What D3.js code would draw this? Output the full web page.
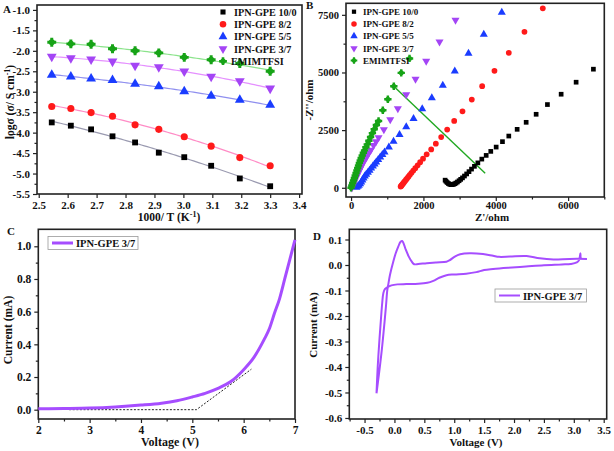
<!DOCTYPE html>
<html><head><meta charset="utf-8">
<script src="https://cdn.jsdelivr.net/npm/d3@7"></script>
<style>
html,body{margin:0;padding:0;background:#fff;}
svg text{font-family:"Liberation Serif","Times New Roman",serif;font-weight:bold;fill:#111;}
</style></head>
<body>
<svg id="fig" width="614" height="451"></svg>
<script>
// ---------- Panel A data: log conductivity vs 1000/T ----------
const aX   = [2.545, 2.611, 2.681, 2.755, 2.833, 2.915, 3.003, 3.096, 3.195, 3.300];
const a100 = [-3.75,-3.83,-3.92,-4.09,-4.24,-4.49,-4.60,-4.81,-5.12,-5.31];
const a82  = [-3.36,-3.41,-3.51,-3.60,-3.81,-3.92,-4.10,-4.33,-4.61,-4.81];
const a55  = [-2.59,-2.63,-2.68,-2.72,-2.81,-2.87,-2.99,-3.10,-3.20,-3.32];
const a37  = [-2.14,-2.18,-2.21,-2.26,-2.36,-2.40,-2.50,-2.63,-2.74,-2.92];
const aEM  = [-1.79,-1.83,-1.84,-1.95,-2.00,-2.05,-2.16,-2.22,-2.31,-2.50];
const seriesNames = ["IPN-GPE 10/0","IPN-GPE 8/2","IPN-GPE 5/5","IPN-GPE 3/7","EMIMTFSI"];
const aXTicks = [2.5,2.6,2.7,2.8,2.9,3.0,3.1,3.2,3.3,3.4];
const aYTicks = [-1.0,-1.5,-2.0,-2.5,-3.0,-3.5,-4.0,-4.5,-5.0,-5.5];

// ---------- Panel B data: Nyquist plots [Z', -Z''] ----------
const b100 = [[2600,330],[2625,280],[2655,230],[2690,185],[2725,155],[2760,135],[2795,135],[2830,150],[2865,175],[2900,205],[2940,250],[2985,305],[3030,365],[3080,430],[3135,510],[3195,600],[3260,700],[3330,810],[3410,930],[3505,1080],[3614,1243],[3735,1404],[3862,1578],[4011,1765],[4185,2000],[4360,2243],[4591,2535],[4840,2839],[5116,3187],[5428,3609],[5807,4057],[6221,4578],[6699,5143]];
const b82  = [[1370,50],[1385,80],[1400,110],[1420,150],[1440,190],[1465,240],[1490,290],[1520,350],[1550,410],[1585,480],[1625,560],[1670,650],[1720,745],[1775,850],[1840,975],[1910,1110],[1990,1260],[2090,1450],[2215,1665],[2343,1913],[2491,2200],[2657,2522],[2851,2896],[3080,3317],[3337,3826],[3624,4404],[3964,5070],[4360,5852],[4793,6765],[5300,7783]];
const b55  = [[150,10],[185,55],[216,100],[250,170],[281,243],[313,330],[345,417],[380,500],[419,578],[465,665],[511,752],[555,845],[603,939],[650,1025],[695,1113],[750,1220],[806,1330],[865,1440],[925,1548],[1045,1765],[1174,2013],[1340,2304],[1525,2635],[1727,3000],[1967,3417],[2232,3896],[2536,4435],[2867,5057],[3246,5826],[3669,6652],[4166,7609]];
const b37  = [[22,0],[45,85],[69,174],[95,280],[124,391],[155,500],[188,609],[220,715],[254,826],[282,920],[309,1013],[340,1100],[373,1187],[405,1280],[437,1374],[492,1500],[545,1630],[622,1839],[690,2000],[760,2174],[906,2522],[1083,2957],[1293,3435],[1525,4043],[1782,4709],[2077,5491],[2445,6330],[2887,7274]];
const bEM  = [[0,0],[22,100],[45,210],[69,317],[92,425],[115,535],[138,645],[161,752],[184,860],[207,970],[230,1080],[254,1187],[280,1295],[309,1404],[340,1515],[373,1622],[410,1760],[448,1883],[492,2040],[539,2200],[590,2370],[640,2535],[700,2720],[760,2896],[878,3361],[1017,3839],[1182,4404],[1387,4983],[1616,5609]];
const bEMLine = [[1230,4330],[3707,635]];
const bXTicks = [0,2000,4000,6000];
const bYTicks = [0,2500,5000,7500];

// ---------- Panel C data: LSV ----------
const cV = [2.0,2.5,3.0,3.5,4.0,4.4,4.7,5.0,5.25,5.5,5.75,6.0,6.2,6.4,6.5,6.6,6.7,6.8,6.9,7.0];
const cI = [0.005,0.007,0.010,0.017,0.028,0.040,0.055,0.078,0.100,0.130,0.172,0.245,0.320,0.430,0.495,0.590,0.680,0.800,0.920,1.040];
const cTangent = [[2.6,0.0],[5.08,0.0],[6.15,0.248]];
const cXTicks = [2,3,4,5,6,7];
const cYTicks = [0.0,0.2,0.4,0.6,0.8,1.0];

// ---------- Panel D data: CV loop ----------
const dV = [-0.30,-0.28,-0.25,-0.225,-0.205,-0.185,-0.16,-0.12,-0.05,0.05,0.20,0.40,0.55,0.65,0.75,0.87,1.00,1.20,1.37,1.50,1.65,1.90,2.20,2.50,2.80,2.95,3.05,3.09,3.11,3.12,3.16,3.22,
            2.93,2.66,2.43,2.21,1.93,1.75,1.65,1.48,1.26,1.10,1.01,0.92,0.87,0.70,0.54,0.40,0.33,0.29,0.24,0.19,0.16,0.13,0.10,0.064,0.02,-0.02,-0.075,-0.10,-0.12,-0.14,-0.165,-0.21,-0.26,-0.30];
const dI = [-0.503,-0.40,-0.29,-0.21,-0.15,-0.11,-0.095,-0.088,-0.080,-0.076,-0.075,-0.074,-0.070,-0.062,-0.050,-0.040,-0.037,-0.034,-0.028,-0.020,-0.016,-0.011,-0.006,-0.001,0.002,0.004,0.010,0.020,0.046,0.024,0.024,0.024,
            0.024,0.022,0.026,0.035,0.033,0.032,0.036,0.043,0.046,0.042,0.033,0.018,0.013,0.010,0.007,0.004,0.003,0.013,0.033,0.060,0.080,0.094,0.090,0.072,0.045,0.013,-0.039,-0.072,-0.10,-0.157,-0.222,-0.33,-0.43,-0.503];
const dXTicks = [-0.5,0.0,0.5,1.0,1.5,2.0,2.5,3.0,3.5];
const dYTicks = [0.1,0.0,-0.1,-0.2,-0.3,-0.4,-0.5,-0.6];

// ================= drawing =================
const svg = d3.select("#fig");
const colors = ["#000000","#ff1a1a","#1a3cff","#a445f5","#17a317"];
const fitColors = ["#9a9ab0","#ff8cc6","#8f8fef","#e590ff","#8be38b"];

function frame(g, x, y, o) {
  const [x0,x1] = x.range(), [y0,y1] = y.range();
  const fs = o.fs || 11;
  const pad = o.pad == null ? 3 : o.pad;
  g.append("g").attr("transform",`translate(0,${y0})`)
    .call(d3.axisBottom(x).tickValues(o.xt).tickSize(4).tickPadding(pad).tickFormat(o.xf));
  if (o.xm) g.append("g").attr("transform",`translate(0,${y0})`)
    .call(d3.axisBottom(x).tickValues(o.xm).tickSize(2.5).tickFormat(""));
  g.append("g").attr("transform",`translate(${x0},0)`)
    .call(d3.axisLeft(y).tickValues(o.yt).tickSize(4).tickPadding(3).tickFormat(o.yf));
  if (o.ym) g.append("g").attr("transform",`translate(${x0},0)`)
    .call(d3.axisLeft(y).tickValues(o.ym).tickSize(2.5).tickFormat(""));
  g.selectAll(".domain").remove();
  g.selectAll(".tick line").attr("stroke","#222").attr("stroke-width",1.2);
  g.selectAll(".tick text").attr("font-size",fs).attr("fill","#111")
    .style("font-family",'"Liberation Serif",serif').style("font-weight","bold");
  g.append("rect").attr("x",x0).attr("y",y1).attr("width",x1-x0).attr("height",y0-y1)
    .attr("fill","none").attr("stroke","#222").attr("stroke-width",1.6);
}

function polyfit2(xs, ys) {
  let S = [0,0,0,0,0], T=[0,0,0];
  xs.forEach((xv,i)=>{ const p=[1,xv,xv*xv,xv*xv*xv,xv*xv*xv*xv];
    for(let k=0;k<5;k++) S[k]+=p[k];
    T[0]+=ys[i]; T[1]+=ys[i]*xv; T[2]+=ys[i]*xv*xv; });
  const M = [[S[0],S[1],S[2],T[0]],[S[1],S[2],S[3],T[1]],[S[2],S[3],S[4],T[2]]];
  for (let i=0;i<3;i++){ for(let j=i+1;j<3;j++){ const f=M[j][i]/M[i][i]; for(let k=i;k<4;k++) M[j][k]-=f*M[i][k]; } }
  const c=[0,0,0];
  for (let i=2;i>=0;i--){ let s=M[i][3]; for(let k=i+1;k<3;k++) s-=M[i][k]*c[k]; c[i]=s/M[i][i]; }
  return xv => c[0]+c[1]*xv+c[2]*xv*xv;
}

const sym = [d3.symbolSquare, d3.symbolCircle, d3.symbolTriangle, d3.symbolTriangle, d3.symbolCross];
const rot = [0,0,0,180,0];

function marker(sel, i, size) {
  sel.append("path").attr("d", d3.symbol().type(sym[i]).size(size)).attr("transform", `rotate(${rot[i]})`).attr("fill",colors[i]);
  if (i === 4) sel.append("circle").attr("r", Math.sqrt(size)*0.46).attr("fill",colors[i]);
}

// ---------- Panel A ----------
{
  const g = svg.append("g");
  const x = d3.scaleLinear().domain([2.494,3.41]).range([37,302]);
  const y = d3.scaleLinear().domain([-5.5,-0.88]).range([194,5]);
  frame(g,x,y,{xt:aXTicks, xf:d=>d.toFixed(1), yt:aYTicks, yf:d=>d.toFixed(1),
    ym:d3.range(-5.25,-0.9,0.5)});
  const all = [a100,a82,a55,a37,aEM];
  const sizes = [34,40,42,42,44];
  all.forEach((ys,i)=>{
    const f = polyfit2(aX, ys);
    const xs = d3.range(aX[0], aX[aX.length-1]+0.001, 0.01);
    g.append("path").attr("d", d3.line().x(d=>x(d)).y(d=>y(f(d)))(xs))
      .attr("fill","none").attr("stroke",fitColors[i]).attr("stroke-width",1.2);
  });
  all.forEach((ys,i)=>{
    const m = g.selectAll(null).data(ys).enter().append("g")
      .attr("transform",(d,j)=>`translate(${x(aX[j])},${y(d)})`);
    marker(m, i, sizes[i]);
  });
  seriesNames.forEach((n,i)=>{
    const ly = 12 + i*12.3;
    const m = g.append("g").attr("transform",`translate(223,${ly})`);
    marker(m, i, i==0?26:34);
    g.append("text").attr("x", i==4?231:234).attr("y", ly+3.6).attr("font-size",10.2).text(n);
  });
  g.append("text").attr("x",3).attr("y",13).attr("font-size",11).text("A");
  g.append("text").attr("transform","translate(14,102) rotate(-90)").attr("text-anchor","middle")
    .attr("font-size",11.5).html('logσ (σ/ S cm<tspan dy="-4" font-size="8">-1</tspan><tspan dy="4">)</tspan>');
  g.append("text").attr("x",169).attr("y",221).attr("text-anchor","middle").attr("font-size",11.5)
    .html('1000/ T (K<tspan dy="-4" font-size="8">-1</tspan><tspan dy="4">)</tspan>');
}

// ---------- Panel B ----------
{
  const g = svg.append("g");
  const x = d3.scaleLinear().domain([-140,7000]).range([346,604.3]);
  const y = d3.scaleLinear().domain([-400,8000]).range([197,3.3]);
  frame(g,x,y,{xt:bXTicks, xf:d3.format("d"), xm:[1000,3000,5000,7000], yt:bYTicks, yf:d3.format("d"),
    ym:[1250,3750,6250], pad:1, fs:10.5});
  const all = [b100,b82,b55,b37,bEM];
  const sizes = [22,26,28,28,30];
  g.append("path").attr("d", d3.line().x(d=>x(d[0])).y(d=>y(d[1]))(bEMLine))
    .attr("stroke","#22a822").attr("stroke-width",1.4).attr("fill","none");
  all.forEach((pts,i)=>{
    const m = g.selectAll(null).data(pts).enter().append("g")
      .attr("transform",d=>`translate(${x(d[0])},${y(d[1])})`);
    marker(m, i, sizes[i]);
  });
  seriesNames.forEach((n,i)=>{
    const ly = 11.7 + i*12.2;
    const m = g.append("g").attr("transform",`translate(354,${ly})`);
    marker(m, i, i==0?18:24);
    g.append("text").attr("x",363).attr("y",ly+3.3).attr("font-size",9).text(n);
  });
  g.append("text").attr("x",306).attr("y",9).attr("font-size",11).text("B");
  g.append("text").attr("transform","translate(313,100) rotate(-90)").attr("text-anchor","middle")
    .attr("font-size",11).text("-Z''/ohm");
  g.append("text").attr("x",492).attr("y",221).attr("text-anchor","middle").attr("font-size",11).text("Z'/ohm");
}

// ---------- Panel C ----------
{
  const g = svg.append("g");
  const x = d3.scaleLinear().domain([2,7]).range([38.3,295]);
  const y = d3.scaleLinear().domain([-0.057,1.104]).range([419,229.3]);
  frame(g,x,y,{xt:cXTicks, xf:d3.format("d"), xm:[2.5,3.5,4.5,5.5,6.5], yt:cYTicks, yf:d=>d.toFixed(1),
    ym:[0.1,0.3,0.5,0.7,0.9], fs:11.5});
  g.append("path").attr("d", d3.line().x(d=>x(d[0])).y(d=>y(d[1]))(cTangent))
    .attr("stroke","#222").attr("stroke-width",1).attr("stroke-dasharray","2,1.6").attr("fill","none");
  g.append("path").attr("d", d3.line().curve(d3.curveMonotoneX).x((d,i)=>x(cV[i])).y(d=>y(d))(cI))
    .attr("stroke","#a64dff").attr("stroke-width",3).attr("fill","none");
  g.append("rect").attr("x",48).attr("y",236.5).attr("width",90).attr("height",13)
    .attr("fill","#fff").attr("stroke","#999").attr("stroke-width",0.8);
  g.append("line").attr("x1",52).attr("x2",73).attr("y1",243).attr("y2",243)
    .attr("stroke","#a64dff").attr("stroke-width",3);
  g.append("text").attr("x",76).attr("y",247).attr("font-size",10.5).text("IPN-GPE 3/7");
  g.append("text").attr("x",7).attr("y",235).attr("font-size",11).text("C");
  g.append("text").attr("transform","translate(12,330) rotate(-90)").attr("text-anchor","middle")
    .attr("font-size",11.5).text("Current (mA)");
  g.append("text").attr("x",170).attr("y",446).attr("text-anchor","middle").attr("font-size",12).text("Voltage (V)");
}

// ---------- Panel D ----------
{
  const g = svg.append("g");
  const x = d3.scaleLinear().domain([-0.755,3.55]).range([349.3,606.7]);
  const y = d3.scaleLinear().domain([-0.604,0.14]).range([419,229.3]);
  frame(g,x,y,{xt:dXTicks, xf:d=>d.toFixed(1), xm:d3.range(-0.75,3.5,0.5), yt:dYTicks, yf:d=>d.toFixed(1),
    ym:d3.range(-0.55,0.13,0.1)});
  g.append("path").attr("d", d3.line().curve(d3.curveCatmullRom.alpha(0.5)).x((d,i)=>x(dV[i])).y(d=>y(d))(dI))
    .attr("stroke","#a64dff").attr("stroke-width",2).attr("fill","none");
  g.append("rect").attr("x",495).attr("y",289).attr("width",91.5).attr("height",13)
    .attr("fill","#fff").attr("stroke","#999").attr("stroke-width",0.8);
  g.append("line").attr("x1",499).attr("x2",520).attr("y1",295.5).attr("y2",295.5)
    .attr("stroke","#a64dff").attr("stroke-width",2);
  g.append("text").attr("x",523).attr("y",299.5).attr("font-size",10.5).text("IPN-GPE 3/7");
  g.append("text").attr("x",313).attr("y",240).attr("font-size",11).text("D");
  g.append("text").attr("transform","translate(317,325) rotate(-90)").attr("text-anchor","middle")
    .attr("font-size",11).text("Current  (mA)");
  g.append("text").attr("x",476).attr("y",446).attr("text-anchor","middle").attr("font-size",11).text("Voltage (V)");
}
</script>
</body></html>
